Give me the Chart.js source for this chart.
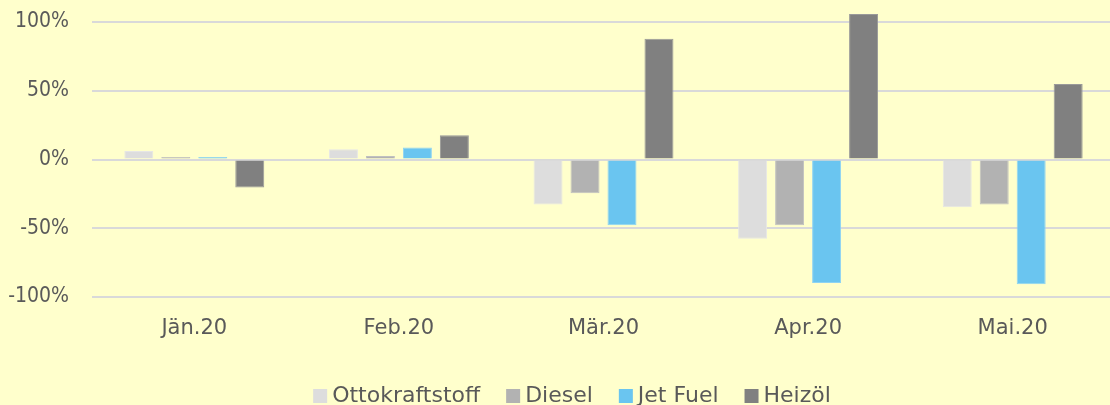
<!DOCTYPE html>
<html><head><meta charset="utf-8">
<script src="https://cdn.jsdelivr.net/npm/chart.js@4"></script>
<style>
html,body{margin:0;padding:0;background:#FFFFCC;overflow:hidden;width:1110px;height:405px;}
#wrap{width:1122px;height:405px;position:relative;}
</style></head>
<body><div id="wrap"><canvas id="c" width="1122" height="405"></canvas></div>
<script>
const categories = ["Jän.20","Feb.20","Mär.20","Apr.20","Mai.20"];
const seriesNames = ["Ottokraftstoff","Diesel","Jet Fuel","Heizöl"];
const ottokraftstoff = [6.2, 7.5, -32.8, -57.7, -34.8];
const diesel = [1.9, 2.6, -24.6, -47.8, -32.8];
const jetFuel = [1.8, 8.7, -47.8, -89.9, -90.8];
const heizoel = [-20.3, 17.6, 87.9, 105.8, 54.9];
const yTicks = [-100, -50, 0, 50, 100];

const colors = ["#DDDDDD", "#B2B2B2", "#6AC5F0", "#808080"];
const borders = ["#E6E6E6", "#C0C0C0", "#8DD3F4", "#999999"];
const values = [ottokraftstoff, diesel, jetFuel, heizoel];
const FONT = "'DejaVu Sans', sans-serif";
Chart.defaults.font.family = FONT;

// Legend drawn with Excel-like spacing (box, small gap, text)
const excelLegend = {
  id: 'excelLegend',
  afterDraw(chart) {
    const ctx = chart.ctx;
    const box = 14, gap = 5, spacing = 26, baseline = 402, center = 572;
    ctx.save();
    ctx.font = "22px 'DejaVu Sans', sans-serif";
    ctx.textBaseline = 'alphabetic';
    ctx.textAlign = 'left';
    const items = chart.data.datasets.map(ds => ({ label: ds.label, color: ds.backgroundColor, w: ctx.measureText(ds.label).width }));
    const total = items.reduce((a, it) => a + box + gap + it.w, 0) + spacing * (items.length - 1);
    let x = center - total / 2;
    items.forEach(it => {
      ctx.fillStyle = it.color;
      ctx.fillRect(x, baseline - 13, box, box);
      ctx.fillStyle = '#595959';
      ctx.fillText(it.label, x + box + gap, baseline);
      x += box + gap + it.w + spacing;
    });
    ctx.restore();
  }
};

new Chart(document.getElementById('c'), {
  type: 'bar',
  data: {
    labels: categories,
    datasets: seriesNames.map((n, i) => ({
      label: n,
      data: values[i],
      backgroundColor: colors[i],
      borderColor: borders[i],
      borderWidth: 1,
      clip: false,
      barPercentage: 0.784,
      categoryPercentage: 0.723
    }))
  },
  plugins: [excelLegend],
  options: {
    responsive: false,
    animation: false,
    layout: { padding: { top: 22, left: 0, right: 7, bottom: 35 } },
    scales: {
      x: {
        grid: { display: false, drawTicks: false },
        border: { display: false },
        ticks: { color: '#595959', font: { size: 21 }, padding: 19 },
        afterFit: s => { s.height = 73; s.paddingLeft = 0; s.paddingRight = 0; }
      },
      y: {
        min: -100, max: 100,
        afterBuildTicks: s => { s.ticks = yTicks.map(v => ({ value: v })); },
        grid: { color: '#D9D9D9', lineWidth: 2, drawTicks: false },
        border: { display: false },
        ticks: { color: '#595959', font: { size: 21, family: "'DejaVu Sans Condensed', 'DejaVu Sans', sans-serif" }, padding: 23, callback: v => v + '%' },
        afterFit: s => { s.width = 92; s.paddingTop = 0; s.paddingBottom = 0; }
      }
    },
    plugins: {
      legend: { display: false },
      tooltip: { enabled: false }
    }
  }
});
</script></body></html>
